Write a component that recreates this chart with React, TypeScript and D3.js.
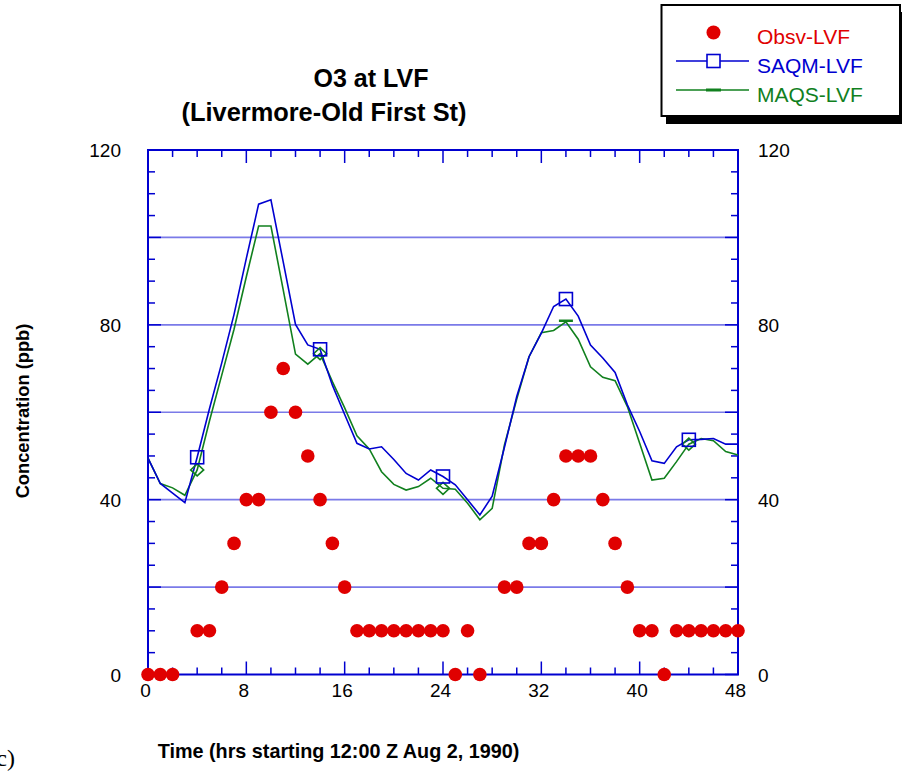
import React from "react";
import * as d3 from "d3";

const hours: number[] = Array.from({ length: 49 }, (_, i) => i);

const obsLVF: (number | null)[] = [
  0, 0, 0, null, 10, 10, 20, 30, 40, 40, 60, 70, 60, 50, 40, 30, 20,
  10, 10, 10, 10, 10, 10, 10, 10,
  0, 10, 0, null, 20, 20, 30, 30, 40, 50, 50, 50, 40, 30, 20, 10, 10, 0,
  10, 10, 10, 10, 10, 10,
];

const saqmLVF: number[] = [
  49.5, 43.7, 41.5, 39.3, 49.7, 60.8, 71.3, 82.4, 95.2, 107.6, 108.6, 94.4,
  80.1, 75.4, 74.4, 66.2, 59.5, 52.9, 51.6, 52.1, 49.2, 46.0, 44.5, 46.8,
  45.3, 43.4, 40.0, 36.5, 40.8, 52.0, 63.6, 72.7, 78.1, 84.2, 85.9, 82.0,
  75.4, 72.4, 69.1, 61.7, 55.6, 48.9, 48.3, 52.1, 53.7, 53.8, 54.0, 52.7, 52.7,
];

const maqsLVF: number[] = [
  49.5, 43.7, 42.7, 41.0, 46.8, 58.0, 68.5, 79.0, 91.0, 102.6, 102.6, 88.0,
  73.3, 71.0, 73.4, 67.0, 61.0, 54.6, 51.6, 46.4, 43.5, 42.2, 43.0, 44.9,
  42.6, 42.4, 39.2, 35.4, 38.0, 52.5, 63.0, 72.7, 78.2, 78.7, 80.7, 76.7,
  70.4, 68.0, 67.2, 61.3, 52.9, 44.5, 44.9, 48.7, 52.7, 54.0, 53.5, 51.0, 50.2,
];

const markerHours: number[] = [4, 14, 24, 34, 44];
const xTickLabels: number[] = [0, 8, 16, 24, 32, 40, 48];
const yTickLabels: number[] = [0, 40, 80, 120];
const gridValues: number[] = [20, 40, 60, 80, 100];
const legendLabels: string[] = ["Obsv-LVF", "SAQM-LVF", "MAQS-LVF"];

const FONT = "'Liberation Sans', Arial, Helvetica, sans-serif";
const AXIS = "#0000d0";
const GRID = "#7a7ae8";
const BLUE = "#0000d0";
const GREEN = "#11801e";
const RED = "#e00000";

export default function App() {
  const x = d3.scaleLinear().domain([0, 48]).range([148, 738]);
  const y = d3.scaleLinear().domain([0, 120]).range([674.5, 150]);

  const lineGen = d3
    .line<[number, number]>()
    .x((d) => x(d[0]))
    .y((d) => y(d[1]));

  const saqmPath = lineGen(hours.map((h, i) => [h, saqmLVF[i]]))!;
  const maqsPath = lineGen(hours.map((h, i) => [h, maqsLVF[i]]))!;

  const xMinor = d3.range(0, 49, 2);
  const yMinor = d3.range(0, 121, 5);
  const [x0, x1] = x.range();
  const [y0, y1] = y.range();

  return (
    <svg
      width={902}
      height={771}
      style={{ position: "absolute", left: 0, top: 0, background: "#fff" }}
      fontFamily={FONT}
    >
      <rect x={0} y={0} width={902} height={771} fill="#fff" />

      {/* title */}
      <text x={371} y={87} textAnchor="middle" fontSize={25} fontWeight="bold" fill="#000">
        O3 at LVF
      </text>
      <text x={324} y={121} textAnchor="middle" fontSize={25.4} fontWeight="bold" fill="#000">
        (Livermore-Old First St)
      </text>

      {/* gridlines */}
      {gridValues.map((v) => (
        <line key={"g" + v} x1={x0} x2={x1} y1={y(v)} y2={y(v)} stroke={GRID} strokeWidth={1.6} />
      ))}

      {/* frame */}
      <rect x={x0} y={y1} width={x1 - x0} height={y0 - y1} fill="none" stroke={AXIS} strokeWidth={2} />

      {/* x ticks (bottom & top, inward) */}
      {xMinor.map((h) => {
        const len = h % 8 === 0 ? 13 : 7;
        return (
          <g key={"xt" + h} stroke={AXIS} strokeWidth={1.5}>
            <line x1={x(h)} x2={x(h)} y1={y0} y2={y0 - len} />
            <line x1={x(h)} x2={x(h)} y1={y1} y2={y1 + len} />
          </g>
        );
      })}
      {/* y ticks (left & right, inward) */}
      {yMinor.map((v) => {
        const len = v % 20 === 0 ? 13 : 7;
        return (
          <g key={"yt" + v} stroke={AXIS} strokeWidth={1.5}>
            <line x1={x0} x2={x0 + len} y1={y(v)} y2={y(v)} />
            <line x1={x1} x2={x1 - len} y1={y(v)} y2={y(v)} />
          </g>
        );
      })}

      {/* tick labels */}
      {xTickLabels.map((h) => (
        <text key={"xl" + h} x={x(h) - 2.5} y={697} textAnchor="middle" fontSize={19} fill="#000">
          {h}
        </text>
      ))}
      {yTickLabels.map((v) => (
        <g key={"yl" + v}>
          <text x={121} y={y(v) + 7} textAnchor="end" fontSize={19} fill="#000">
            {v}
          </text>
          <text x={758} y={y(v) + 7} textAnchor="start" fontSize={19} fill="#000">
            {v}
          </text>
        </g>
      ))}

      {/* axis titles */}
      <text x={338.5} y={758} textAnchor="middle" fontSize={19.8} fontWeight="bold" fill="#000">
        Time (hrs starting 12:00 Z Aug 2, 1990)
      </text>
      <text
        transform={`translate(29,411) rotate(-90)`}
        textAnchor="middle"
        fontSize={18.3}
        fontWeight="bold"
        fill="#000"
      >
        Concentration (ppb)
      </text>

      {/* model lines */}
      <path d={maqsPath} fill="none" stroke={GREEN} strokeWidth={1.6} />
      <path d={saqmPath} fill="none" stroke={BLUE} strokeWidth={1.6} />

      {/* markers */}
      {markerHours.map((h) => {
        const cx = x(h);
        const cy = y(maqsLVF[h]);
        return h === 34 ? (
          <line key={"gm" + h} x1={cx - 7} x2={cx + 7} y1={cy - 1} y2={cy - 1} stroke={GREEN} strokeWidth={2.5} />
        ) : (
          <path
            key={"gm" + h}
            d={`M${cx},${cy - 6}L${cx + 6.5},${cy}L${cx},${cy + 6}L${cx - 6.5},${cy}Z`}
            fill="none"
            stroke={GREEN}
            strokeWidth={1.6}
          />
        );
      })}
      {markerHours.map((h) => (
        <rect
          key={"bm" + h}
          x={x(h) - 6.5}
          y={y(saqmLVF[h]) - 6.5}
          width={13}
          height={13}
          fill="none"
          stroke={BLUE}
          strokeWidth={1.6}
        />
      ))}

      {/* observations */}
      {hours.map((h, i) =>
        obsLVF[i] === null ? null : (
          <circle key={"o" + h} cx={x(h)} cy={y(obsLVF[i] as number)} r={6.8} fill={RED} />
        )
      )}

      {/* legend */}
      <rect x={666} y={12} width={240} height={112} fill="#000" />
      <rect x={661.5} y={5} width={238.5} height={111} fill="#fff" stroke="#000" strokeWidth={2} />
      <circle cx={713.5} cy={32.5} r={7} fill={RED} />
      <text x={757} y={44} fontSize={21} fill={RED}>
        {legendLabels[0]}
      </text>
      <line x1={676} x2={749} y1={61} y2={61} stroke={BLUE} strokeWidth={1.6} />
      <rect x={707} y={54.5} width={13} height={13} fill="#fff" stroke={BLUE} strokeWidth={1.6} />
      <text x={757} y={73} fontSize={21} fill={BLUE}>
        {legendLabels[1]}
      </text>
      <line x1={676} x2={749} y1={90} y2={90} stroke={GREEN} strokeWidth={1.6} />
      <line x1={706} x2={721} y1={90} y2={90} stroke={GREEN} strokeWidth={3} />
      <text x={757} y={102} fontSize={21} fill={GREEN}>
        {legendLabels[2]}
      </text>

      {/* panel tag, clipped at the left edge as in the reference */}
      <text x={15} y={766} textAnchor="end" fontSize={24} fontFamily="'Liberation Serif', 'Times New Roman', serif" fill="#000">
        (c)
      </text>
    </svg>
  );
}
